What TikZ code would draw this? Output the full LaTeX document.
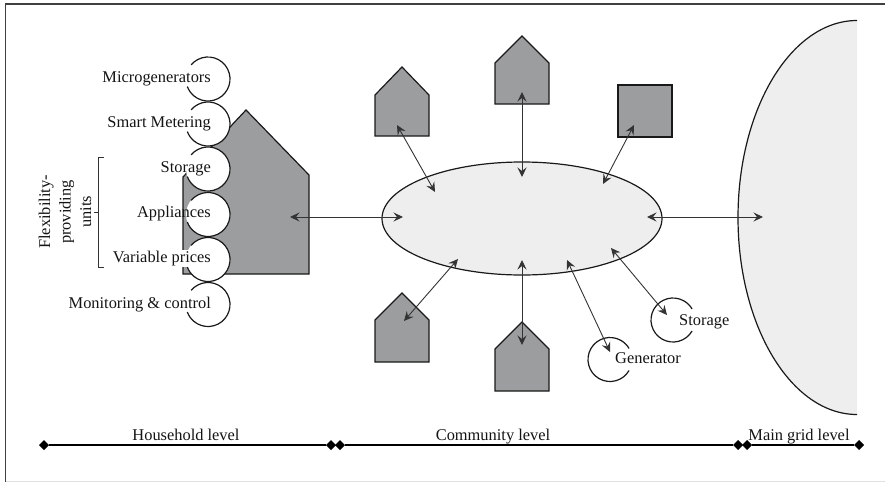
\documentclass[tikz,border=0pt]{standalone}
\usepackage{fontspec}
\setmainfont{Liberation Serif}
\usetikzlibrary{arrows.meta,shapes.geometric}
\tikzset{
  x=1pt,y=-1pt,
  lab/.style={font=\fontsize{16.4}{20}\selectfont,inner sep=0pt,text=black!92},
  shapeline/.style={draw=black!90,line width=1.2pt},
  bld/.style={shapeline,fill=bldgray},
  arcline/.style={draw=black!90,line width=1.2pt},
  link/.style={draw=black!80,line width=0.9pt,{Stealth[length=9.5pt,width=9pt,inset=3.5pt]}-{Stealth[length=9.5pt,width=9pt,inset=3.5pt]}},
  levelline/.style={draw=black,line width=2pt},
  dia/.style={diamond,fill=black,inner sep=0pt,outer sep=0pt,minimum size=10pt},
}
\definecolor{bldgray}{HTML}{9B9D9E}
\definecolor{lightfill}{HTML}{EEEEEE}
\begin{document}
\begin{tikzpicture}
\useasboundingbox (0,0) rectangle (885,482);
\draw[black!75,line width=1.5pt] (885,4) -- (5.5,4) -- (5.5,482);
\draw[black!12,line width=0.8pt] (5.5,481) -- (885,481);
% main grid
\fill[lightfill] (857,20.5) arc[start angle=270,end angle=90,x radius=119,y radius=197] -- cycle;
\draw[shapeline] (857,20.5) arc[start angle=270,end angle=90,x radius=119,y radius=197];
% large house
\draw[bld,line join=miter] (183,274) -- (183,177) -- (246,110) -- (309,175) -- (309,274) -- cycle;
% circles
\foreach \cy in {79,124,169,214.5,259.5,304.5}{
  \fill[white] (208,\cy) circle[radius=22];
}
\foreach \cy in {79,124,169,214.5,259.5,304.5}{
  \draw[arcline] (208,\cy) ++(220:22) arc[start angle=220,end angle=520,radius=22];
}
\node[lab,anchor=base east] (lmicro) at (211,82) {Microgenerators};
\node[lab,anchor=base east] (lsmart) at (211,127) {Smart Metering};
\node[lab,anchor=base east] (lstor) at (211,172) {Storage};
\node[lab,anchor=base east] (lappl) at (211,217.5) {Appliances};
\node[lab,anchor=base east,fill=white,inner sep=1pt] (lvar) at (212,262.5) {Variable prices};
\node[lab,anchor=base east] (lmon) at (211,308) {Monitoring \& control};
% bracket
\draw[black!80,line width=0.6pt] (104,157) -- (98,157) -- (98,267) -- (104,267) (98,212) -- (94,212);
\node[lab,rotate=90,align=center,font=\fontsize{16.4}{20.5}\selectfont] (lflex) at (65,212) {Flexibility-\\providing\\units};
% community ellipse
\node[ellipse,shapeline,fill=lightfill,minimum width=280pt,minimum height=113pt,inner sep=0pt] (comm) at (522,218.5) {};
% small buildings
\draw[bld] (375,95) -- (402,67) -- (429,95) -- (429,136) -- (375,136) -- cycle;
\draw[bld] (495,63) -- (522,36) -- (549,63) -- (549,104) -- (495,104) -- cycle;
\draw[bld] (618,85) rectangle (672,137);
\draw[bld] (375,320) -- (402,293) -- (429,320) -- (429,362) -- (375,362) -- cycle;
\draw[bld] (495,349) -- (522,322) -- (549,349) -- (549,391) -- (495,391) -- cycle;
% generator, storage
\draw[arcline] (610,359.5) ++(30:22) arc[start angle=30,end angle=330,radius=22];
\draw[arcline] (673,320) ++(30:22) arc[start angle=30,end angle=330,radius=22];
\node[lab,anchor=base west] (lgen) at (615,363) {Generator};
\node[lab,anchor=base west] (lsto2) at (679,325) {Storage};
% connector ends
\coordinate (hA) at (290,217); \coordinate (cA) at (403,217);
\coordinate (cB) at (647,217); \coordinate (gB) at (763,217);
\coordinate (h1) at (397,125); \coordinate (c1) at (435,192);
\coordinate (h2) at (522,92);  \coordinate (c2) at (522,177);
\coordinate (h3) at (634,125); \coordinate (c3) at (603,184);
\coordinate (h4) at (404,321); \coordinate (c4) at (458,259);
\coordinate (h5) at (522,345); \coordinate (c5) at (522,260);
\coordinate (g6) at (610,352); \coordinate (c6) at (567,260);
\coordinate (s7) at (667,315); \coordinate (c7) at (611,248);
\foreach \p/\q in {hA/cA,cB/gB,h1/c1,h2/c2,h3/c3,h4/c4,h5/c5,g6/c6,s7/c7}{
  \draw[link] (\p) -- (\q);
}
% levels
\node[dia] (d1) at (44,445) {};
\node[dia] (d2) at (331,445) {};
\node[dia] (d3) at (340,445) {};
\node[dia] (d4) at (738,445) {};
\node[dia] (d5) at (747,445) {};
\node[dia] (d6) at (859,445) {};
\draw[levelline] (d1) -- (d2);
\draw[levelline] (d3) -- (d4);
\draw[levelline] (d5) -- (d6);
\node[lab,anchor=base] (l1) at (186,440.5) {Household level};
\node[lab,anchor=base] (l2) at (493,440.5) {Community level};
\node[lab,anchor=base] (l3) at (799,440.5) {Main grid level};
\end{tikzpicture}
\end{document}
